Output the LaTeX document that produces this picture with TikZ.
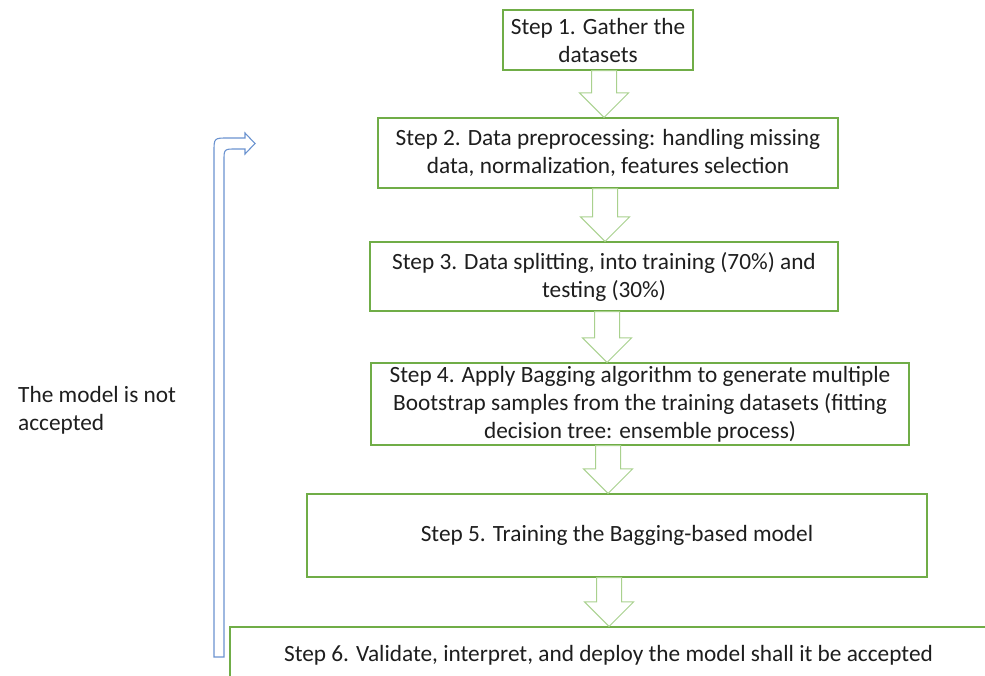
\documentclass[tikz,border=0pt]{standalone}
\usepackage{fontspec}
\setmainfont{Carlito}
\usetikzlibrary{calc}
\definecolor{boxgreen}{HTML}{70AD47}
\definecolor{arrowgreen}{HTML}{A9D18E}
\definecolor{bentblue}{HTML}{6B93D0}
\definecolor{txt}{HTML}{1E1E1E}
\tikzset{
  stepbox/.style={draw=boxgreen, line width=1.1pt, fill=white, align=center,
    text=txt, inner sep=0pt, font=\fontsize{23.3}{28}\selectfont},
  plaintext/.style={align=left, text=txt, inner sep=0pt, font=\fontsize{23.3}{28}\selectfont},
  barrow/.style={draw=arrowgreen, line width=1pt, fill=white, line join=miter},
  bent/.style={draw=bentblue, line width=1.1pt, fill=white, line join=miter},
}
\newcommand\flowarrow[3]{%
  \path (#1,0 |- #2.south) coordinate (fa-t) (#1,0 |- #3.north) coordinate (fa-b);
  \draw[barrow] ($(fa-t)+(-12.5,0)$) -- ($(fa-t)+(12.5,0)$) -- ($(fa-b)+(12.5,-24.5)$)
    -- ($(fa-b)+(24.5,-24.5)$) -- (fa-b) -- ($(fa-b)+(-24.5,-24.5)$)
    -- ($(fa-b)+(-12.5,-24.5)$) -- cycle;}
\begin{document}
\begin{tikzpicture}[x=1pt,y=-1pt]
\useasboundingbox (0,0) rectangle (985,675);
\clip (0,0) rectangle (985,675);
\fill[white] (0,0) rectangle (985,675);

\node[stepbox, minimum width=190pt, minimum height=60pt] (b1) at (598,40)
  {Step 1. Gather the\\datasets};
\node[stepbox, minimum width=460pt, minimum height=70pt] (b2) at (608,153)
  {Step 2. Data preprocessing: handling missing\\data, normalization, features selection};
\node[stepbox, minimum width=468pt, minimum height=69pt] (b3) at (604,276.5)
  {Step 3. Data splitting, into training (70\%) and\\testing (30\%)};
\node[stepbox, minimum width=538pt, minimum height=82pt] (b4) at (640,404)
  {Step 4. Apply Bagging algorithm to generate multiple\\Bootstrap samples from the training datasets (fitting\\decision tree: ensemble process)};
\node[stepbox, minimum width=620pt, minimum height=83pt] (b5) at (617,535.5)
  {Step 5. Training the Bagging-based model};
\node[stepbox, minimum width=770pt, minimum height=72pt] (b6) at (615,663) {};
\node[plaintext] (t6) at (608.5,655)
  {Step 6. Validate, interpret, and deploy the model shall it be accepted};

\flowarrow{604}{b1}{b2}
\flowarrow{605}{b2}{b3}
\flowarrow{607}{b3}{b4}
\flowarrow{608}{b4}{b5}
\flowarrow{609}{b5}{b6}

\coordinate (loopbottom) at (219,657);
\coordinate (looptip) at (255,143.5);
\draw[bent] (214,657) -- (214,152) .. controls (214,138) .. (228,138) -- (245,138)
  -- (245,133) -- (looptip) -- (245,154) -- (245,149) -- (236,149)
  .. controls (224,149) .. (224,161) -- (224,657) -- cycle;

\node[plaintext, anchor=west] (rej) at (18,410) {The model is not\\accepted};
\end{tikzpicture}
\end{document}
